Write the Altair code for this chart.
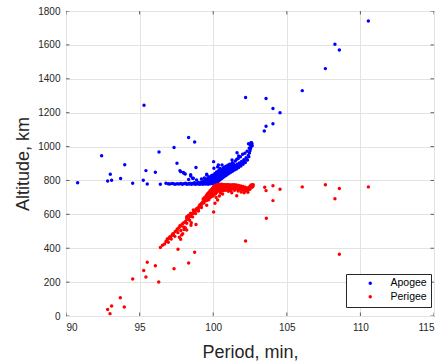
import altair as alt
import pandas as pd

# ---- data (period in minutes, altitude in km) ----
apogee_points = [
    (90.79, 787), (92.42, 946), (92.83, 797), (93.1, 801), (93.01, 836), (93.71, 811),
    (93.99, 893), (94.53, 783), (95.25, 801), (95.3, 1244), (95.43, 858), (95.52, 779),
    (96.07, 848), (96.32, 968), (96.41, 777), (97.34, 994), (97.54, 901), (97.74, 858),
    (97.79, 852), (97.97, 847), (98.02, 842), (98.1, 838), (98.33, 1053), (98.33, 806),
    (98.47, 834), (98.47, 826), (98.6, 813), (98.65, 813), (98.74, 1027), (98.83, 877),
    (98.87, 803), (99.56, 837), (99.56, 832), (100.03, 911), (100.05, 872), (100.3, 880),
    (100.35, 891), (100.6, 891), (100.62, 868), (101.28, 921), (101.62, 964), (101.73, 945),
    (102.2, 1289), (102.4, 1017), (102.57, 1023), (103.47, 1092), (103.59, 1120),
    (103.59, 1283), (104.06, 1135), (104.06, 1224), (104.54, 1200), (106.05, 1330),
    (107.62, 1460), (108.27, 1604), (108.57, 1570), (110.54, 1741),
    (99.2, 808), (99.4, 815), (99.7, 822), (99.9, 830), (100.2, 845), (100.45, 860), (100.8, 880),
    # horizontal band near 780 km
    (96.79, 783), (96.95, 781), (97.05, 779), (97.2, 782), (97.3, 780), (97.42, 778),
    (97.55, 781), (97.68, 779), (97.8, 782), (97.9, 778), (98.0, 780), (98.12, 783),
    (98.2, 777), (98.3, 781), (98.38, 779), (98.45, 784), (98.52, 778), (98.6, 782),
    (98.66, 780), (98.72, 786), (98.78, 777), (98.84, 781), (98.9, 784), (98.95, 779),
    (99.0, 788), (99.05, 781), (99.1, 777), (99.14, 785), (99.18, 790), (99.22, 780),
    (99.26, 784), (99.3, 778), (99.34, 787), (99.38, 792), (99.42, 781), (99.46, 785),
    (99.5, 779), (99.53, 789), (99.56, 795), (99.6, 782), (99.63, 786), (99.66, 778),
    (99.7, 791), (99.73, 797), (99.76, 783), (99.79, 788), (99.82, 780), (99.85, 794),
    (99.88, 800), (99.9, 785), (99.93, 790), (99.96, 781), (99.98, 797), (100.01, 804),
    (100.04, 786), (100.07, 793), (100.1, 780), (100.12, 808), (100.15, 798),
    # spread above the band
    (99.35, 796), (99.45, 802), (99.55, 808), (99.62, 800), (99.68, 812), (99.74, 806),
    (99.8, 815), (99.84, 802), (99.87, 820), (99.91, 810), (99.94, 826), (99.97, 815),
    (100.0, 822), (100.03, 833), (100.06, 812), (100.09, 828), (100.11, 840), (100.16, 822),
    (100.2, 832), (100.23, 850), (100.27, 838), (100.32, 846), (100.36, 858), (100.39, 840),
    (100.43, 848), (100.46, 870), (100.5, 852), (100.55, 862), (100.6, 856), (100.66, 866),
    (100.71, 875), (100.76, 866), (100.82, 872), (100.88, 884), (100.94, 876), (101.0, 890),
    (101.06, 882), (101.12, 895), (101.2, 890), (101.3, 905), (101.38, 898), (101.5, 915),
    (101.6, 925), (101.7, 930), (101.85, 940), (102.0, 955), (102.15, 960), (102.3, 972),
    (102.45, 990), (102.52, 1008), (102.6, 1022),
    # rising branch
    (100.14, 788), (100.17, 801), (100.19, 812), (100.21, 794), (100.24, 806), (100.26, 818),
    (100.28, 790), (100.31, 800), (100.33, 823), (100.35, 810), (100.37, 797), (100.4, 828),
    (100.42, 815), (100.44, 803), (100.47, 832), (100.49, 820), (100.51, 808), (100.54, 836),
    (100.56, 824), (100.58, 812), (100.61, 841), (100.63, 829), (100.65, 817), (100.68, 846),
    (100.7, 834), (100.72, 822), (100.75, 851), (100.77, 838), (100.8, 826), (100.83, 855),
    (100.86, 843), (100.89, 831), (100.92, 860), (100.95, 848), (100.98, 836), (101.01, 865),
    (101.04, 853), (101.08, 842), (101.11, 870), (101.15, 858), (101.19, 848), (101.23, 876),
    (101.27, 864), (101.31, 854), (101.35, 882), (101.4, 870), (101.44, 861), (101.49, 889),
    (101.54, 877), (101.58, 868), (101.63, 896), (101.68, 884), (101.73, 876), (101.78, 903),
    (101.83, 892), (101.88, 885), (101.93, 912), (101.98, 901), (102.03, 895), (102.08, 922),
    (102.13, 912), (102.18, 906), (102.23, 934), (102.28, 925), (102.33, 920), (102.38, 948),
    (102.42, 940), (102.46, 962), (102.5, 975), (102.54, 988), (102.57, 1000), (102.6, 1010),
    (102.63, 1018), (102.65, 1005),
]

perigee_points = [
    (92.99, 14), (92.83, 39), (93.1, 59), (93.69, 108), (93.96, 53), (94.53, 218),
    (95.28, 268), (95.43, 230), (95.52, 317), (96.07, 297), (96.3, 201), (96.41, 405),
    (97.34, 279), (97.61, 394), (98.33, 313), (98.74, 376), (98.83, 540), (98.51, 551),
    (99.56, 653), (100.03, 614), (100.12, 665), (100.3, 685), (100.42, 708), (100.64, 720),
    (101.03, 736), (101.26, 728), (101.6, 710), (102.36, 730), (102.2, 443), (103.5, 760),
    (103.59, 740), (103.61, 577), (104.06, 681), (104.06, 769), (104.54, 748), (106.05, 762),
    (107.62, 775), (108.27, 692), (108.57, 752), (108.57, 364), (110.54, 762),
    (96.84, 443), (97.04, 462), (97.25, 484), (97.56, 513), (97.74, 533), (97.7, 465),
    (97.79, 453), (97.93, 486), (98.1, 521), (98.2, 508), (98.2, 586), (98.33, 594),
    (98.47, 606), (98.65, 626), (98.87, 633), (99.06, 649), (99.24, 665), (99.46, 685),
    (99.67, 697), (99.83, 716), (99.96, 732), (98.27, 571), (98.49, 535), (97.86, 478),
    (98.02, 511), (97.29, 476), (97.09, 466), (96.88, 455),
    # rising branch
    (96.79, 440), (96.95, 456), (97.05, 466), (97.2, 476), (97.3, 486), (97.42, 499),
    (97.55, 508), (97.68, 522), (97.8, 531), (97.9, 543), (98.0, 550), (98.12, 558),
    (98.2, 574), (98.3, 577), (98.38, 586), (98.45, 588), (98.52, 600), (98.6, 603),
    (98.66, 611), (98.72, 610), (98.78, 624), (98.84, 626), (98.9, 629), (98.95, 638),
    (99.0, 635), (99.05, 647), (99.1, 656), (99.14, 652), (99.18, 651), (99.22, 665),
    (99.26, 665), (99.3, 674), (99.34, 669), (99.38, 668), (99.42, 683), (99.46, 683),
    (99.5, 692), (99.53, 685), (99.56, 682), (99.6, 699), (99.63, 698), (99.66, 709),
    (99.7, 699), (99.73, 696), (99.76, 713), (99.79, 711), (99.82, 723), (99.85, 712),
    (99.88, 709), (99.9, 728), (99.93, 726), (99.96, 738), (99.98, 724), (100.01, 720),
    (100.04, 741), (100.07, 737), (100.1, 752), (100.12, 726), (100.15, 739),
    # thicker part of the rising branch
    (99.32, 690), (99.4, 698), (99.48, 704), (99.55, 712), (99.6, 720), (99.66, 724),
    (99.72, 730), (99.78, 738), (99.84, 742), (99.9, 748), (99.95, 752), (100.0, 758),
    (100.05, 762), (100.08, 768), (100.13, 772), (99.7, 686), (99.8, 700), (99.9, 705),
    (100.0, 710), (100.08, 718), (100.16, 722), (100.25, 730), (100.35, 738), (100.45, 742),
    (100.55, 738), (100.7, 740), (100.85, 742), (101.0, 745), (101.2, 740), (101.45, 742),
    (101.7, 738), (101.9, 732), (102.1, 728), (102.5, 748), (102.7, 766), (102.72, 774),
    (100.2, 700), (100.5, 726), (99.2, 640), (99.0, 620), (98.8, 605), (98.6, 585),
    (98.4, 565), (98.2, 548), (98.0, 525), (97.8, 505), (97.6, 492), (97.4, 470),
    (97.15, 455), (96.95, 435), (96.7, 425), (96.55, 418),
    # flat band near 765 km
    (100.17, 762), (100.19, 752), (100.21, 770), (100.24, 760), (100.26, 750), (100.28, 775),
    (100.31, 767), (100.33, 748), (100.35, 764), (100.37, 776), (100.4, 752), (100.42, 767),
    (100.44, 776), (100.47, 751), (100.49, 766), (100.51, 776), (100.54, 752), (100.56, 767),
    (100.58, 777), (100.61, 751), (100.63, 766), (100.65, 776), (100.68, 750), (100.7, 765),
    (100.72, 775), (100.75, 749), (100.77, 765), (100.8, 775), (100.83, 750), (100.86, 765),
    (100.89, 775), (100.92, 750), (100.95, 765), (100.98, 775), (101.01, 749), (101.04, 765),
    (101.08, 774), (101.11, 750), (101.15, 765), (101.19, 773), (101.23, 750), (101.27, 766),
    (101.31, 774), (101.35, 752), (101.4, 767), (101.44, 774), (101.49, 752), (101.54, 766),
    (101.58, 773), (101.63, 750), (101.68, 765), (101.73, 771), (101.78, 749), (101.83, 762),
    (101.88, 768), (101.93, 746), (101.98, 760), (102.03, 764), (102.08, 742), (102.13, 755),
    (102.18, 760), (102.23, 738), (102.28, 750), (102.33, 755), (102.38, 746), (102.42, 756),
    (102.46, 760), (102.5, 764), (102.54, 768), (102.57, 772), (102.6, 770), (102.63, 775),
    (102.65, 760),
]

series_names = ["Apogee", "Perigee"]
series_colors = ["#0000ff", "#ff0000"]
x_ticks = [90, 95, 100, 105, 110, 115]
y_ticks = [0, 200, 400, 600, 800, 1000, 1200, 1400, 1600, 1800]
x_title = "Period, min,"
y_title = "Altitude, km"

rows = [{"period": p, "altitude": a, "series": "Apogee"} for p, a in apogee_points]
rows += [{"period": p, "altitude": a, "series": "Perigee"} for p, a in perigee_points]
df = pd.DataFrame(rows)
xt = pd.DataFrame({"period": x_ticks})
yt = pd.DataFrame({"altitude": y_ticks})

FONT = "Liberation Sans"
AX = "#262626"
xscale = alt.Scale(domain=[90, 115], nice=False, zero=False)
yscale = alt.Scale(domain=[0, 1800], nice=False, zero=False)
x_axis = alt.Axis(values=x_ticks, format="d", titleY=41, titleBaseline="alphabetic")
y_axis = alt.Axis(values=y_ticks, format="d", titleX=-38, titleY=152.5, titleAngle=-90,
                  titleBaseline="alphabetic", titleAlign="center")

points = alt.Chart(df).mark_circle(size=12, opacity=1).encode(
    x=alt.X("period:Q", scale=xscale, axis=x_axis, title=x_title),
    y=alt.Y("altitude:Q", scale=yscale, axis=y_axis, title=y_title),
    color=alt.Color("series:N",
                    scale=alt.Scale(domain=series_names, range=series_colors),
                    legend=alt.Legend(title=None, orient="none", legendX=280, legendY=263,
                                      fillColor="#ffffff", strokeColor=AX, padding=4,
                                      symbolOffset=15, labelOffset=15, rowPadding=2.5,
                                      symbolType="circle", symbolSize=12,
                                      labelFont=FONT, labelFontSize=10.5, labelColor="#000000")),
)

tick_style = dict(thickness=1, size=7, color=AX, clip=True)
bottom_ticks = alt.Chart(xt).mark_tick(orient="vertical", **tick_style).encode(
    x=alt.X("period:Q", scale=xscale, axis=x_axis, title=x_title),
    y=alt.Y(datum=0, scale=yscale, axis=y_axis, title=y_title))
top_ticks = alt.Chart(xt).mark_tick(orient="vertical", **tick_style).encode(
    x=alt.X("period:Q", scale=xscale, axis=x_axis, title=x_title),
    y=alt.Y(datum=1800, scale=yscale, axis=y_axis, title=y_title))
left_ticks = alt.Chart(yt).mark_tick(orient="horizontal", **tick_style).encode(
    y=alt.Y("altitude:Q", scale=yscale, axis=y_axis, title=y_title),
    x=alt.X(datum=90, scale=xscale, axis=x_axis, title=x_title))
right_ticks = alt.Chart(yt).mark_tick(orient="horizontal", **tick_style).encode(
    y=alt.Y("altitude:Q", scale=yscale, axis=y_axis, title=y_title),
    x=alt.X(datum=115, scale=xscale, axis=x_axis, title=x_title))

chart = alt.layer(points, bottom_ticks, top_ticks, left_ticks, right_ticks).properties(
    width=368, height=305,
    padding={"left": 66, "top": 11, "right": 12, "bottom": 46},
    autosize=alt.AutoSizeParams(type="none"),
    background="#ffffff",
).configure_view(
    stroke=AX, strokeWidth=1
).configure_axis(
    domain=False, tickSize=0, labelPadding=6,
    labelFont=FONT, labelFontSize=10, labelColor=AX,
    titleFont=FONT, titleFontSize=18, titleFontWeight="normal", titleColor=AX,
    grid=True, gridColor="#e3e3e3", gridWidth=1,
)

chart.save("out.html", embed_options={"renderer": "svg", "actions": False})
